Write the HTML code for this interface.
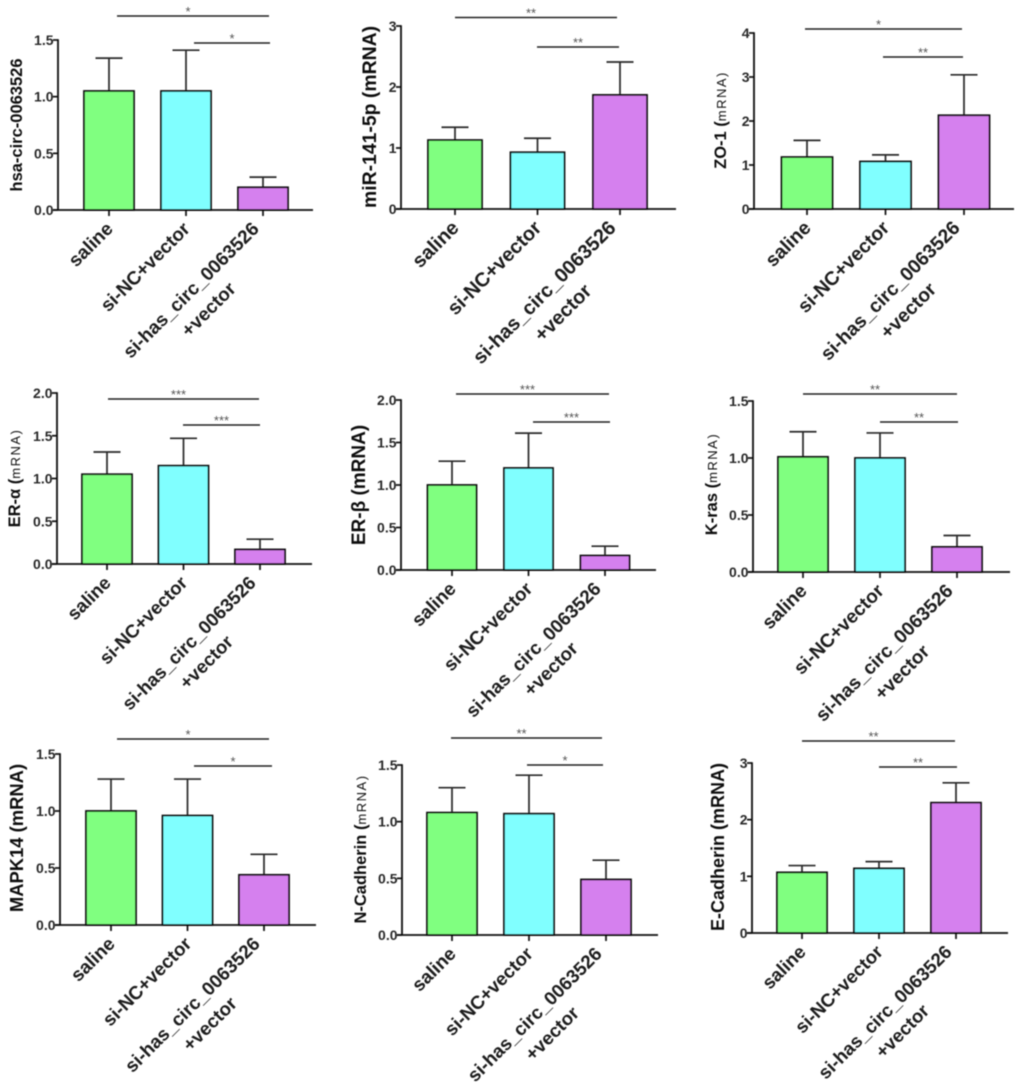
<!DOCTYPE html>
<html lang="en">
<head>
<meta charset="utf-8">
<title>mRNA expression bar charts</title>
<style>
html,body{margin:0;padding:0;background:#fff;width:1020px;height:1090px;overflow:hidden}
svg{display:block}
text{font-family:"Liberation Sans",Arial,sans-serif}
.tick{font-weight:bold;font-size:14px;fill:#2a2a2a}
.cat{font-weight:bold;fill:#1c1c1c}
.ttl{font-weight:bold;fill:#111}
.sig{font-size:13px;fill:#555}
</style>
</head>
<body>
<svg id="figure" xmlns="http://www.w3.org/2000/svg" width="1020" height="1090" viewBox="0 0 1020 1090">
<defs><filter id="soft" x="-2%" y="-2%" width="104%" height="104%"><feGaussianBlur stdDeviation="0.45"/></filter></defs>
<g id="root" filter="url(#soft)"></g>
</svg>
<script>
const categories = ['saline', 'si-NC+vector', 'si-has_circ_0063526'];
const categorySecondLine = ['', '', '+vector'];
const panelTitles = ['hsa-circ-0063526', 'miR-141-5p (mRNA)', 'ZO-1 (', 'ER-α (', 'ER-β (mRNA)', 'K-ras (', 'MAPK14 (mRNA)', 'N-Cadherin (', 'E-Cadherin (mRNA)'];
const panelTitleSmallSuffix = ['', '', 'mRNA)', 'mRNA)', '', 'mRNA)', '', 'mRNA)', ''];
const yAxisMax = [1.5, 3, 4, 2, 2, 1.5, 1.5, 1.5, 3];
const yTickLabels = [
  ['0.0', '0.5', '1.0', '1.5'],
  ['0', '1', '2', '3'],
  ['0', '1', '2', '3', '4'],
  ['0.0', '0.5', '1.0', '1.5', '2.0'],
  ['0.0', '0.5', '1.0', '1.5', '2.0'],
  ['0.0', '0.5', '1.0', '1.5'],
  ['0.0', '0.5', '1.0', '1.5'],
  ['0.0', '0.5', '1.0', '1.5'],
  ['0', '1', '2', '3']
];
const meanValues = [
  [1.05, 1.05, 0.2],
  [1.13, 0.93, 1.87],
  [1.18, 1.08, 2.13],
  [1.05, 1.15, 0.17],
  [1.0, 1.2, 0.17],
  [1.01, 1.0, 0.22],
  [1.0, 0.96, 0.44],
  [1.08, 1.07, 0.49],
  [1.07, 1.14, 2.3]
];
const errorTops = [
  [1.34, 1.41, 0.29],
  [1.34, 1.16, 2.41],
  [1.56, 1.23, 3.05],
  [1.31, 1.47, 0.29],
  [1.28, 1.61, 0.28],
  [1.23, 1.22, 0.32],
  [1.28, 1.28, 0.62],
  [1.3, 1.41, 0.66],
  [1.19, 1.26, 2.65]
];
const significanceLong = ['*', '**', '*', '***', '***', '**', '*', '**', '**'];
const significanceShort = ['*', '**', '**', '***', '***', '**', '*', '*', '**'];

/* layout only (pixels), separate from the data above */
const barColors = ['#80ff80', '#80ffff', '#d580ee'];
const labelShift = [5, 5, -3];
const layouts = [
  {sp:58,  end:313,  t0:109, band:77,   bw:50, y0:210, yt:40,  ly:16,  lx:[117,269], sy:43,  sx:[194,270], tx:22,  ty:125, fs:16.5, sfs:0,  cfs:18.9},
  {sp:401, end:676,  t0:455, band:82.5, bw:54, y0:209, yt:26,  ly:17.5,lx:[455,617], sy:47,  sx:[537,619], tx:376, ty:117, fs:19.4, sfs:0,  cfs:19.9},
  {sp:754, end:1014, t0:807, band:78.5, bw:51, y0:209, yt:33,  ly:29,  lx:[805,962], sy:57,  sx:[883,963], tx:726, ty:120, fs:16.5, sfs:13, cfs:19.4},
  {sp:57,  end:312,  t0:107, band:76.5, bw:50, y0:564, yt:393, ly:399, lx:[108,259], sy:425, sx:[183,260], tx:20,  ty:478, fs:16.5, sfs:13, cfs:18.6},
  {sp:401, end:656,  t0:452, band:76.5, bw:49, y0:570, yt:400, ly:394, lx:[456,609], sy:422, sx:[533,610], tx:365, ty:485, fs:19,   sfs:0,  cfs:18.8},
  {sp:753, end:1010, t0:803, band:77,   bw:50, y0:572, yt:401, ly:394, lx:[803,957], sy:422, sx:[880,958], tx:717, ty:484, fs:16.5, sfs:13, cfs:19.1},
  {sp:60,  end:316,  t0:111, band:76.5, bw:50, y0:925, yt:754, ly:739, lx:[117,269], sy:766, sx:[194,272], tx:23,  ty:838, fs:18.4, sfs:0,  cfs:18.8},
  {sp:402, end:658,  t0:452, band:77,   bw:50, y0:935, yt:765, ly:738, lx:[451,602], sy:765, sx:[527,603], tx:366, ty:849, fs:16.5, sfs:13, cfs:18.7},
  {sp:752, end:1008, t0:802, band:77,   bw:50, y0:933, yt:763, ly:741, lx:[802,955], sy:767, sx:[879,957], tx:724, ty:847, fs:18,   sfs:0,  cfs:18.6}
];

const NS = 'http://www.w3.org/2000/svg';
const root = document.getElementById('root');

function make(tag, parent, props, text) {
  const el = document.createElementNS(NS, tag);
  for (const k in props) el.setAttribute(k, props[k]);
  if (text !== undefined) el.textContent = text;
  parent.appendChild(el);
  return el;
}

function xScale(L, i) { return L.t0 + L.band * i; }
function yScale(L, max, v) { return L.y0 - (v / max) * (L.y0 - L.yt); }

meanValues.forEach(function (means, p) {
  const L = layouts[p];
  const max = yAxisMax[p];
  const g = make('g', root, {});
  
  

  means.forEach(function (v, i) {
    const cx = xScale(L, i);
    const top = yScale(L, max, v);
    const errY = yScale(L, max, errorTops[p][i]);
    const err = make('path', g, {d: 'M' + cx + ' ' + top + 'V' + errY + 'M' + (cx - 13.5) + ' ' + errY + 'H' + (cx + 13.5), fill: 'none', stroke: '#2a2a2a', 'stroke-width': 1.7});
    
    
    const bar = make('rect', g, {x: cx - L.bw / 2, y: top, width: L.bw, height: L.y0 - top, fill: barColors[i], stroke: '#111', 'stroke-width': 1.8});
    
    

    const tk = make('line', g, {x1: cx, x2: cx, y1: L.y0, y2: L.y0 + 6, stroke: '#111', 'stroke-width': 1.7});
    
    

    const lg = make('g', g, {transform: 'translate(' + (cx + labelShift[i]) + ' ' + (L.y0 + 20) + ') rotate(-45)'});
    
    
    make('text', lg, {class: 'cat', x: 0, y: 0, 'text-anchor': 'end', 'font-size': L.cfs}, categories[i]);
    if (categorySecondLine[i]) make('text', lg, {class: 'cat', x: -4.9 * L.cfs, y: 1.38 * L.cfs, 'text-anchor': 'middle', 'font-size': L.cfs}, categorySecondLine[i]);
  });

  const xAxis = make('line', g, {x1: L.sp - 5, x2: L.end, y1: L.y0, y2: L.y0, stroke: '#111', 'stroke-width': 1.8});
  
  
  const yAxis = make('line', g, {x1: L.sp, x2: L.sp, y1: L.yt - 0.8, y2: L.y0, stroke: '#111', 'stroke-width': 1.8});
  
  

  yTickLabels[p].forEach(function (label) {
    const y = yScale(L, max, parseFloat(label));
    const yt = make('line', g, {x1: L.sp - 5, x2: L.sp, y1: y, y2: y, stroke: '#111', 'stroke-width': 1.7});
    
    
    const tl = make('text', g, {class: 'tick', x: L.sp - 4.5, y: y + 5, 'text-anchor': 'end'}, label);
    
    
  });

  const title = make('text', g, {class: 'ttl', transform: 'translate(' + L.tx + ' ' + L.ty + ') rotate(-90)', 'text-anchor': 'middle', 'font-size': L.fs}, panelTitles[p]);
  
  
  if (panelTitleSmallSuffix[p]) {
    make('tspan', title, {'font-size': L.sfs, 'font-weight': 'normal', 'letter-spacing': '1.5'}, panelTitleSmallSuffix[p]);
  }

  const longLine = make('line', g, {x1: L.lx[0], x2: L.lx[1], y1: L.ly, y2: L.ly, stroke: '#222', 'stroke-width': 1.6});
  
  
  const shortLine = make('line', g, {x1: L.sx[0], x2: L.sx[1], y1: L.sy, y2: L.sy, stroke: '#222', 'stroke-width': 1.6});
  
  
  const longStar = make('text', g, {class: 'sig', x: (L.lx[0] + L.lx[1]) / 2 - 5, y: L.ly, 'text-anchor': 'middle'}, significanceLong[p]);
  
  
  const shortStar = make('text', g, {class: 'sig', x: (L.sx[0] + L.sx[1]) / 2, y: L.sy, 'text-anchor': 'middle'}, significanceShort[p]);
  
  
});
</script>
</body>
</html>
